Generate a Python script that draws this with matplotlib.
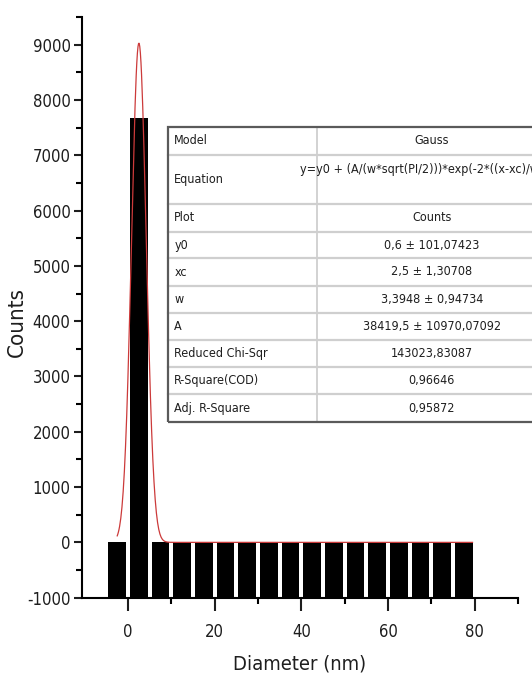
import numpy as np
import matplotlib.pyplot as plt
from matplotlib import font_manager
from matplotlib.lines import Line2D
from matplotlib.patches import Rectangle

# Histogrammdaten (Klassenmitten in nm, Anzahl)
durchmesser = [-2.5, 2.5, 7.5, 12.5, 17.5, 22.5, 27.5, 32.5, 37.5, 42.5,
               47.5, 52.5, 57.5, 62.5, 67.5, 72.5, 77.5]
anzahl = [0, 7680, 0, 0, 0, 0, 0, 0, 0, 0, 0, 0, 0, 0, 0, 0, 0]

# Gauss-Fit Parameter
y0, xc, w, A = 0.6, 2.5, 3.3948, 38419.5

tabelle_namen = ["Model", "Equation", "Plot", "y0", "xc", "w", "A",
                 "Reduced Chi-Sqr", "R-Square(COD)", "Adj. R-Square"]
tabelle_werte = ["Gauss", "y=y0 + (A/(w*sqrt(PI/2)))*exp(-2*((x-xc)/w)^2)",
                 "Counts", "0,6 \u00b1 101,07423", "2,5 \u00b1 1,30708",
                 "3,3948 \u00b1 0,94734", "38419,5 \u00b1 10970,07092",
                 "143023,83087", "0,96646", "0,95872"]

# schmale Schrift suchen, sonst Liberation Sans
schmal = [f for f in font_manager.fontManager.ttflist
          if ('Narrow' in f.name or 'Condensed' in f.name
              or f.stretch in ('condensed', 'semi-condensed', 550, 600, 'narrow'))]
plt.rcParams['axes.unicode_minus'] = False
if schmal:
    f0 = sorted(schmal, key=lambda f: ('Sans' not in f.name, f.weight != 400, f.style != 'normal'))[0]
    plt.rcParams['font.family'] = [f0.name, 'DejaVu Sans']
    plt.rcParams['font.stretch'] = f0.stretch
    gr = 1.0
else:
    plt.rcParams['font.family'] = ['Liberation Sans', 'DejaVu Sans']
    gr = 0.85

W, H = 532, 687
fig = plt.figure(figsize=(W / 100, H / 100), dpi=100)
ax = fig.add_axes([81.7 / W, 1 - 597.7 / H, (518 - 81.7) / W, (597.7 - 17) / H])

# Balken beginnen an der unteren Achse (-1000)
unten = -1000
ax.bar(durchmesser, np.array(anzahl) - unten, bottom=unten, width=4.1,
       color='black', edgecolor='none', zorder=2)

xs = np.linspace(-2.5, 79.5, 600)
ys = y0 + (A / (w * np.sqrt(np.pi / 2))) * np.exp(-2 * ((xs - xc) / w) ** 2)
ax.plot(xs, ys, color='#cc3a3a', lw=0.9, zorder=3)

ax.set_xlim(-10.7, 90)
ax.set_ylim(-1000, 9500)
ax.set_xticks([0, 20, 40, 60, 80])
ax.set_xticks([10, 30, 50, 70, 90], minor=True)
ax.set_yticks(np.arange(-1000, 9001, 1000))
ax.set_yticks(np.arange(-500, 9501, 1000), minor=True)
ax.spines['top'].set_visible(False)
ax.spines['right'].set_visible(False)
for s in ('left', 'bottom'):
    ax.spines[s].set_linewidth(1.5)
ax.tick_params(axis='both', which='major', direction='out', width=1.5,
               labelsize=12 * gr, colors='#1e1e1e')
ax.tick_params(axis='y', which='major', length=6, pad=2)
ax.tick_params(axis='x', which='major', length=9, pad=9)
ax.tick_params(axis='both', which='minor', direction='out', width=1.5, length=4)
ax.set_xlabel('Diameter (nm)', fontsize=14.5 * gr, color='#1e1e1e')
ax.set_ylabel('Counts', fontsize=16 * gr, color='#1e1e1e')
ax.xaxis.set_label_coords(0.5, -0.097)
ax.yaxis.set_label_coords(-0.125, 0.475)

# Ergebnistabelle des Fits
grenzen = [126.7, 155, 204.3, 231.7, 258.3, 285.7, 312.7, 340, 367.3, 394.3, 421.7]
links, mitte, rechts = 168.3, 316.7, 547


def fx(px):
    return px / W


def fy(py):
    return 1 - py / H


fig.add_artist(Rectangle((fx(links), fy(grenzen[-1])), fx(rechts - links),
                         (grenzen[-1] - grenzen[0]) / H, facecolor='white',
                         edgecolor='none', zorder=5))
for g in grenzen[1:-1]:
    fig.add_artist(Line2D([fx(links), fx(rechts)], [fy(g), fy(g)],
                          color='#cfcfcf', lw=1.6, zorder=6))
fig.add_artist(Line2D([fx(mitte), fx(mitte)], [fy(grenzen[0]), fy(grenzen[-1])],
                      color='#cfcfcf', lw=1.3, zorder=6))
fig.add_artist(Rectangle((fx(links), fy(grenzen[-1])), fx(rechts - links),
                         (grenzen[-1] - grenzen[0]) / H, facecolor='none',
                         edgecolor='#5a5a5a', lw=1.6, zorder=7))

for i, (name, wert) in enumerate(zip(tabelle_namen, tabelle_werte)):
    oben, unt = grenzen[i], grenzen[i + 1]
    ym = (oben + unt) / 2
    fig.text(fx(links + 6), fy(ym), name, fontsize=9 * gr, ha='left',
             va='center', color='#1e1e1e', zorder=8)
    yw = oben + 15 if name == "Equation" else ym
    fig.text(fx((mitte + rechts) / 2), fy(yw), wert, fontsize=9 * gr,
             ha='center', va='center', color='#1e1e1e', zorder=8)

fig.savefig('out.png', dpi=100)
